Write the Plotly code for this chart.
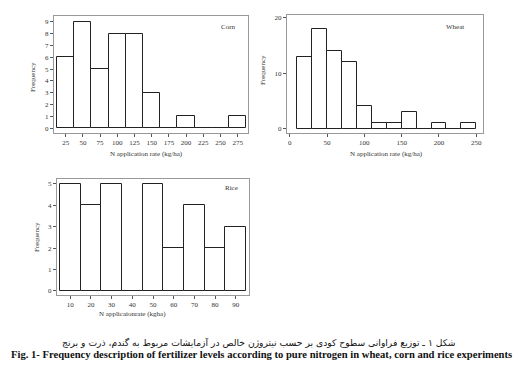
import plotly.graph_objects as go

# ---- data ----
corn_centers = [25, 50, 75, 100, 125, 150, 175, 200, 225, 250, 275]
corn_freq = [6, 9, 5, 8, 8, 3, 0, 1, 0, 0, 1]
corn_ticks = [25, 50, 75, 100, 125, 150, 175, 200, 225, 250, 275]
corn_yticks = [0, 1, 2, 3, 4, 5, 6, 7, 8, 9]

wheat_centers = [20, 40, 60, 80, 100, 120, 140, 160, 180, 200, 220, 240]
wheat_freq = [13, 18, 14, 12, 4, 1, 1, 3, 0, 1, 0, 1]
wheat_ticks = [0, 50, 100, 150, 200, 250]
wheat_yticks = [0, 10, 20]

rice_centers = [10, 20, 30, 40, 50, 60, 70, 80, 90]
rice_freq = [5, 4, 5, 0, 5, 2, 4, 2, 3]
rice_ticks = [10, 20, 30, 40, 50, 60, 70, 80, 90]
rice_yticks = [0, 1, 2, 3, 4, 5]

caption_fa = "شکل ۱ ـ توزیع فراوانی سطوح کودی بر حسب نیتروژن خالص در آزمایشات مربوط به گندم، ذرت و برنج"
caption_en = "Fig. 1- Frequency description of fertilizer levels according to pure nitrogen in wheat, corn and rice experiments"

W, H = 519, 376
SERIF = "Liberation Serif, Times New Roman, serif"


def px(x):
    return x / W


def py(y):
    return 1 - y / H


fig = go.Figure()

bar_style = dict(marker=dict(color="white", line=dict(color="#222", width=1)), showlegend=False, hoverinfo="skip")
fig.add_trace(go.Bar(x=corn_centers, y=corn_freq, width=25, xaxis="x", yaxis="y", **bar_style))
fig.add_trace(go.Bar(x=wheat_centers, y=wheat_freq, width=20, xaxis="x2", yaxis="y2", **bar_style))
fig.add_trace(go.Bar(x=rice_centers, y=rice_freq, width=10, xaxis="x3", yaxis="y3", **bar_style))

axis_common = dict(showline=True, mirror=True, linecolor="#999", linewidth=1, showgrid=False, zeroline=False,
                   ticks="outside", ticklen=3, tickcolor="#555", tickfont=dict(family=SERIF, size=7, color="#333"))

fig.update_layout(
    width=W, height=H, margin=dict(l=0, r=0, t=0, b=0),
    paper_bgcolor="white", plot_bgcolor="white", bargap=0,
    xaxis=dict(domain=[px(54), px(248)], anchor="y", range=[8, 290], tickvals=corn_ticks, **axis_common),
    yaxis=dict(domain=[py(133), py(16)], anchor="x", range=[-0.42, 9.5], tickvals=corn_yticks, **axis_common),
    xaxis2=dict(domain=[px(287), px(483)], anchor="y2", range=[-3.6, 259], tickvals=wheat_ticks, **axis_common),
    yaxis2=dict(domain=[py(133), py(15)], anchor="x2", range=[-0.78, 20.5], tickvals=wheat_yticks, **axis_common),
    xaxis3=dict(domain=[px(57), px(249)], anchor="y3", range=[3.6, 96.4], tickvals=rice_ticks, **axis_common),
    yaxis3=dict(domain=[py(295), py(179)], anchor="x3", range=[-0.19, 5.23], tickvals=rice_yticks, **axis_common),
)

ann = []


def text(x, y, s, size=7, angle=0, family=SERIF, color="#333"):
    ann.append(dict(x=px(x), y=py(y), xref="paper", yref="paper", text=s, showarrow=False,
                    font=dict(family=family, size=size, color=color), textangle=angle,
                    xanchor="center", yanchor="middle"))


text(228, 27, "Corn")
text(455, 27, "Wheat")
text(231, 188, "Rice")
text(146, 154, "N application rate (kg/ha)")
text(386, 154, "N application rate (kg/ha)")
text(132, 314, "N applicaionrate (kgha)")
text(33, 77, "Frequency", angle=-90)
text(263, 70, "Frequency", angle=-90)
text(37, 237, "Frequency", angle=-90)
text(259, 342, caption_fa, size=9.2, family="DejaVu Sans, Noto Sans, sans-serif", color="#111")
text(261, 354, "<b>" + caption_en + "</b>", size=10.6, color="#111")

fig.update_layout(annotations=ann)
fig.write_html("out.html")
